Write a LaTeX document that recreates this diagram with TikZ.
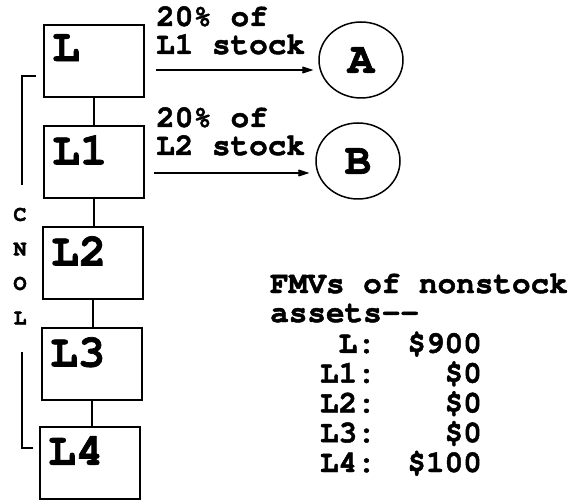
\documentclass[tikz,border=0pt]{standalone}
\usepackage{fontspec}
\setmainfont{texgyrecursor}[Extension=.otf, UprightFont=*-regular, BoldFont=*-bold, BoldFeatures={FakeBold=1.5}]
\usetikzlibrary{arrows.meta,shapes.geometric}

\tikzset{
  lbox/.style={draw, line width=2pt, minimum width=100pt, minimum height=72pt},
  lname/.style={anchor=north west, inner sep=0pt, xshift=9pt, yshift=-10pt, font=\bfseries\fontsize{46}{46}\selectfont},
  holder/.style={draw, ellipse, line width=1.5pt, minimum width=84pt, minimum height=76pt, font=\bfseries\fontsize{44}{44}\selectfont},
  arr/.style={-{Stealth[length=22pt,width=15pt,inset=14pt]}, line width=2pt},
  txt/.style={inner sep=0pt, font=\bfseries\fontsize{31}{28}\selectfont},
}

\begin{document}
\begin{tikzpicture}[x=1pt,y=-1pt]
        \useasboundingbox (0,0) rectangle (572,502);
        % chain of corporations
        \node[lbox, label={[lname]north west:L}]  (L)  at (94,61)  {};
        \node[lbox, label={[lname]north west:L1}] (L1) at (94,162) {};
        \node[lbox, label={[lname]north west:L2}] (L2) at (93,263) {};
        \node[lbox, label={[lname]north west:L3}] (L3) at (92,364) {};
        \node[lbox, label={[lname]north west:L4}] (L4) at (90,463) {};
        \foreach \a/\b in {L/L1,L1/L2,L2/L3,L3/L4}
        \draw[line width=1.8pt] (\a.south) -- (\a.south |- \b.north);
        % CNOL bracket
        \draw[line width=1.5pt] (36,76) -- (22,76) -- (22,185);
        \draw[line width=1.5pt] (22,352) -- (22,448) -- (33,448);
        \foreach \c [count=\i] in {C,N,O,L}
        \node[font=\bfseries\fontsize{22}{22}\selectfont] (c\i) at (20,{180+\i*34.5}) {\c};
        % outside holders
        \node[holder] (A) at (361,60)  {A};
        \node[holder] (B) at (358,161) {B};
        \draw[arr, shorten <=11pt, shorten >=5pt] (L.east |- 0,70) -- (A.west |- 0,70);
        \draw[arr, shorten <=9pt, shorten >=6pt] (L1.east |- 0,173) -- (B.west |- 0,173);
        \node[txt, anchor=north west, align=left] (sa) at (156,6)   {20\% of\\L1 stock};
        \node[txt, anchor=north west, align=left] (sb) at (156,107) {20\% of\\L2 stock};
        % values table
        \node[txt, anchor=base west] (fmv) at (270,293) {FMVs of nonstock};
        \node[txt, anchor=base west] (ast) at (270,322) {assets-{}-};
        \foreach \n/\v [count=\i] in {L/900,L1/0,L2/0,L3/0,L4/100} {
          \node[txt, anchor=base east] (n\n) at (376,{323+\i*29.8}) {\n:};
          \node[txt, anchor=base east] (v\n) at (482,{323+\i*29.8}) {\$\v};
        }
\end{tikzpicture}
\end{document}
